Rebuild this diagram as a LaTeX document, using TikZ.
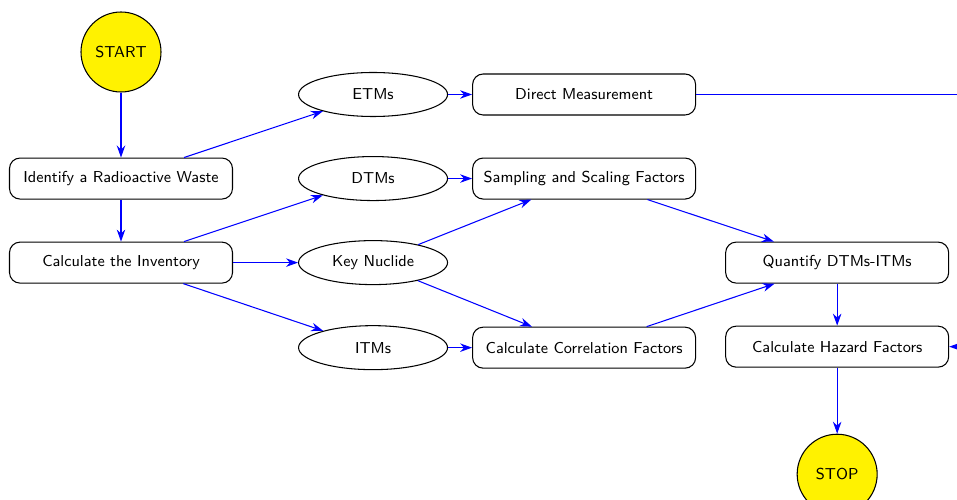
\documentclass[tikz,border=0pt]{standalone}
\usetikzlibrary{positioning,shapes,arrows.meta}

\begin{document}
\begin{tikzpicture}[->, >={Stealth[length=2.4mm,width=1.7mm]}, color=blue, semithick, node distance=0.8cm,
    process/.style={draw=black, rectangle, rounded corners=6pt, minimum width=4.46cm, minimum height=0.82cm, text=black, font=\sffamily\small},
    measure/.style={draw=black, ellipse, minimum width=2.98cm, minimum height=0.88cm, text=black, font=\sffamily\small},
    terminal/.style={draw=black, circle, fill=yellow, minimum size=1.6cm, text=black, font=\sffamily\small}]
    \path[use as bounding box, clip] (0,0) rectangle (19.14,-10);

    \node (start) [terminal] at (2.42,-1.04) {START};
    \node (identify) [process, below=1.3cm of start] {Identify a Radioactive Waste};
    \node (inventory) [process, below=0.84cm of identify] {Calculate the Inventory};

    \node (key) [measure, right=1.3cm of inventory] {Key Nuclide};
    \node (dtms) [measure, above=0.78cm of key] {DTMs};
    \node (etms) [measure, above=0.78cm of dtms] {ETMs};
    \node (itms) [measure, below=0.8cm of key] {ITMs};

    \node (direct) [process, right=0.48cm of etms] {Direct Measurement};
    \node (sampling) [process, right=0.48cm of dtms] {Sampling and Scaling Factors};
    \node (correlation) [process, right=0.48cm of itms] {Calculate Correlation Factors};

    \node (quantify) [process, below right=0.84cm and 0.58cm of sampling] {Quantify DTMs-ITMs};
    \node (hazard) [process, below=0.84cm of quantify] {Calculate Hazard Factors};
    \node (stop) [terminal, below=1.32cm of hazard] {STOP};
    \coordinate (loop) at ([xshift=1cm]hazard.east |- direct);

    \draw (start) -- (identify);
    \draw (identify) -- (inventory);
    \draw (identify) -- (etms);
    \draw (inventory) -- (dtms);
    \draw (inventory) -- (key);
    \draw (inventory) -- (itms);
    \draw (etms) -- (direct);
    \draw (dtms) -- (sampling);
    \draw (itms) -- (correlation);
    \draw (key) -- (sampling);
    \draw (key) -- (correlation);
    \draw (sampling) -- (quantify);
    \draw (correlation) -- (quantify);
    \draw (quantify) -- (hazard);
    \draw (hazard) -- (stop);
    \draw (direct) -- (loop) |- (hazard);
\end{tikzpicture}
\end{document}
